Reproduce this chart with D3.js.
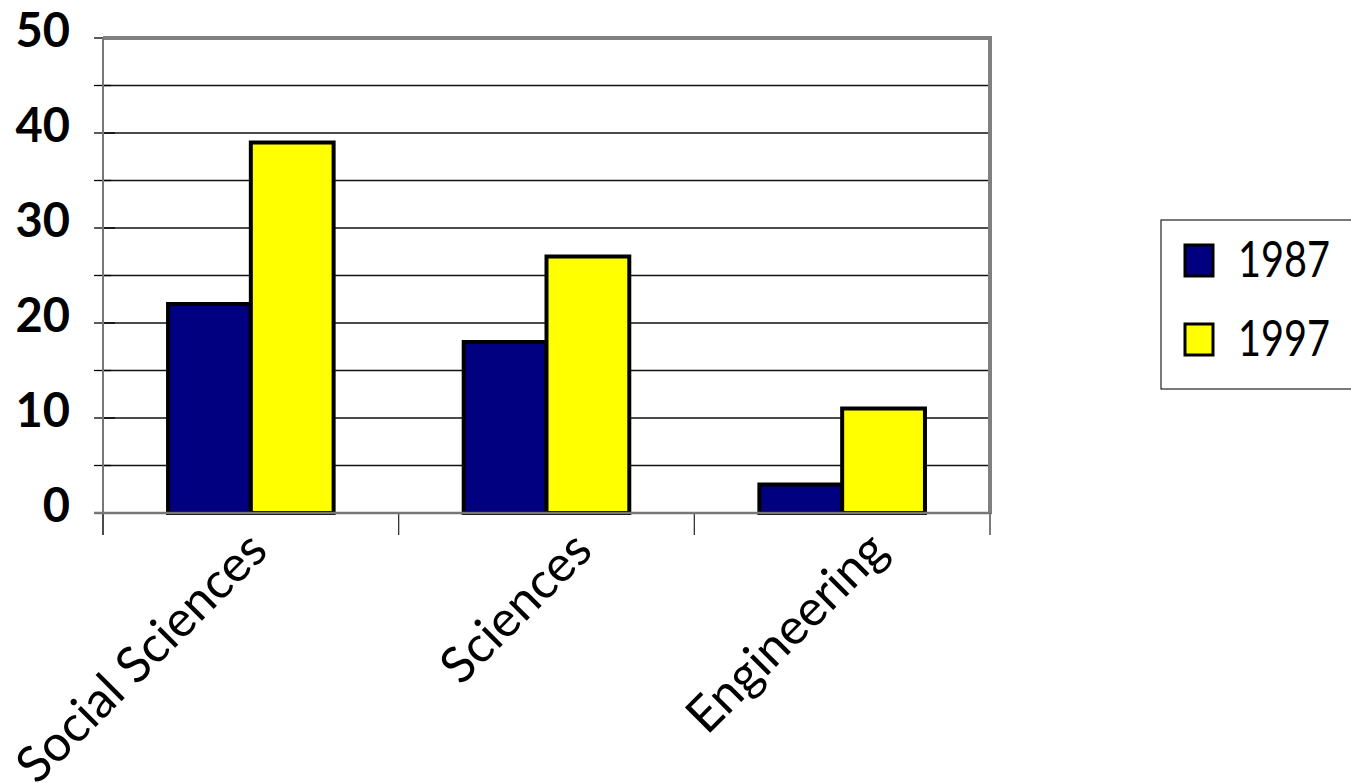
<!DOCTYPE html>
<html>
<head>
<meta charset="utf-8">
<script src="https://cdn.jsdelivr.net/npm/d3@7"></script>
<style>
  body { margin: 0; background: #fff; }
  svg { display: block; }
</style>
</head>
<body>
<svg id="chart" width="1351" height="783"></svg>
<script>
const categories = ["Social Sciences", "Sciences", "Engineering"];
const years = ["1987", "1997"];
const values1987 = [22, 18, 3];
const values1997 = [39, 27, 11];
const yTickLabels = [0, 10, 20, 30, 40, 50];
const gridValues = [0, 5, 10, 15, 20, 25, 30, 35, 40, 45, 50];
const colors = ["#000080", "#ffff00"];

const rows = categories.map((c, i) => ({
  category: c,
  values: [
    { year: years[0], value: values1987[i] },
    { year: years[1], value: values1997[i] }
  ]
}));

const plotLeft = 103, plotRight = 990, plotTop = 38, plotBottom = 513;
const font = "Lato, 'Open Sans', sans-serif";

const svg = d3.select("#chart");

const x = d3.scaleBand().domain(categories).range([plotLeft, plotRight])
  .paddingInner(0.44).paddingOuter(0.22);
const xs = d3.scaleBand().domain(years).range([0, x.bandwidth()]);
const y = d3.scaleLinear().domain([0, 50]).range([plotBottom, plotTop]);
const color = d3.scaleOrdinal().domain(years).range(colors);

// grid lines
svg.append("g")
  .selectAll("line")
  .data(gridValues)
  .enter()
  .append("line")
  .attr("x1", plotLeft)
  .attr("x2", plotRight)
  .attr("y1", (d) => y(d))
  .attr("y2", (d) => y(d))
  .style("stroke", "#111")
  .style("stroke-width", 1.3);

// left ticks
svg.append("g")
  .selectAll("line")
  .data(gridValues)
  .enter()
  .append("line")
  .attr("x1", plotLeft - 9)
  .attr("x2", (d) => (d % 10 === 0 ? plotLeft + 12 : plotLeft + 8))
  .attr("y1", (d) => y(d))
  .attr("y2", (d) => y(d))
  .style("stroke", "#000")
  .style("stroke-width", 1.3);

// plot frame
svg.append("line")
  .attr("x1", plotLeft).attr("x2", plotRight + 2)
  .attr("y1", plotTop).attr("y2", plotTop)
  .style("stroke", "#808080").style("stroke-width", 4);
svg.append("line")
  .attr("x1", plotRight).attr("x2", plotRight)
  .attr("y1", plotTop - 2).attr("y2", plotBottom)
  .style("stroke", "#808080").style("stroke-width", 4);
svg.append("line")
  .attr("x1", plotLeft).attr("x2", plotLeft)
  .attr("y1", plotTop).attr("y2", plotBottom + 22)
  .style("stroke", "#777").style("stroke-width", 2);

// category ticks
const halfGap = (x.step() * x.paddingInner()) / 2;
const boundaries = categories.map((c) => x(c) - halfGap)
  .concat([x(categories[categories.length - 1]) + x.bandwidth() + halfGap]);
svg.append("g")
  .selectAll("line")
  .data(boundaries)
  .enter()
  .append("line")
  .attr("x1", (d) => d)
  .attr("x2", (d) => d)
  .attr("y1", plotBottom)
  .attr("y2", plotBottom + 22)
  .style("stroke", "#333")
  .style("stroke-width", 1.3);

// bars
const groups = svg.append("g")
  .selectAll("g.group")
  .data(rows)
  .enter()
  .append("g")
  .classed("group", true)
  .attr("transform", (d) => `translate(${x(d.category)},0)`);

groups.selectAll("rect")
  .data((d) => d.values)
  .enter()
  .append("rect")
  .attr("x", (d) => xs(d.year))
  .attr("y", (d) => y(d.value))
  .attr("width", xs.bandwidth())
  .attr("height", (d) => y(0) - y(d.value))
  .style("fill", (d) => color(d.year))
  .style("stroke", "#000")
  .style("stroke-width", 4);

// bottom axis line
svg.append("line")
  .attr("x1", plotLeft - 9).attr("x2", plotRight + 2)
  .attr("y1", plotBottom).attr("y2", plotBottom)
  .style("stroke", "#777").style("stroke-width", 2.5);

// y labels
svg.append("g")
  .selectAll("text")
  .data(yTickLabels)
  .enter()
  .append("text")
  .attr("x", 70)
  .attr("y", (d) => y(d) + 9)
  .attr("text-anchor", "end")
  .style("font-family", font)
  .style("font-weight", "bold")
  .style("font-size", "47px")
  .text((d) => d);

// category labels, rotated
svg.append("g")
  .selectAll("text")
  .data(categories)
  .enter()
  .append("text")
  .attr("text-anchor", "end")
  .attr("transform", (d, i) => {
    const shift = i === 0 ? -29 : 0; // first label sits closer to its tick
    return `translate(${x(d) + x.bandwidth() / 2 + 48 + shift},553) rotate(-45)`;
  })
  .style("font-family", font)
  .style("font-size", "50px")
  .text((d) => d);

// legend
const legend = svg.append("g");
legend.append("rect")
  .attr("x", 1161).attr("y", 220)
  .attr("width", 200).attr("height", 169)
  .style("fill", "#fff")
  .style("stroke", "#222")
  .style("stroke-width", 1.2);

const items = legend.selectAll("g.item")
  .data(years)
  .enter()
  .append("g")
  .classed("item", true)
  .attr("transform", (d, i) => `translate(1185,${245 + i * 79})`);

items.append("rect")
  .attr("width", 28)
  .attr("height", 31)
  .style("fill", (d) => color(d))
  .style("stroke", "#000")
  .style("stroke-width", 3);

items.append("text")
  .attr("x", 53)
  .attr("y", 32)
  .attr("textLength", 92)
  .attr("lengthAdjust", "spacingAndGlyphs")
  .style("font-family", font)
  .style("font-size", "50px")
  .text((d) => d);
</script>
</body>
</html>
